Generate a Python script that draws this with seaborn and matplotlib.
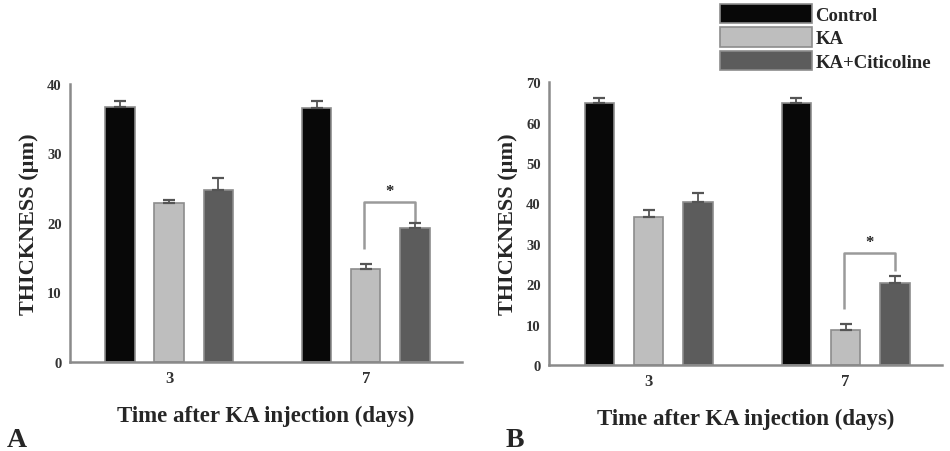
import matplotlib
matplotlib.use("Agg")
import matplotlib.pyplot as plt
import seaborn as sns
import pandas as pd

# data
days = ["3", "7"]
groups = ["Control", "KA", "KA+Citicoline"]

a_control = [36.7, 36.5]
a_ka = [22.9, 13.4]
a_kac = [24.7, 19.3]
a_err_control = [0.8, 1.0]
a_err_ka = [0.4, 0.7]
a_err_kac = [1.8, 0.7]

b_control = [64.8, 64.8]
b_ka = [36.6, 8.7]
b_kac = [40.3, 20.3]
b_err_control = [1.4, 1.3]
b_err_ka = [1.8, 1.4]
b_err_kac = [2.2, 1.7]

# significance bracket (day 7, KA vs KA+Citicoline): top, left end, right end
a_bracket = [23.0, 16.3, 20.1]
b_bracket = [27.7, 13.9, 23.3]

colors = ["#080808", "#bebebe", "#5c5c5c"]
edge = "#8c8c8c"
axis_col = "#8a8a8a"
SERIF = ["Liberation Serif", "DejaVu Serif"]


def make_frame(ctrl, ka, kac):
    rows = []
    for g, vals in zip(groups, [ctrl, ka, kac]):
        for d, v in zip(days, vals):
            rows.append({"day": d, "group": g, "thickness": v})
    return pd.DataFrame(rows)


def draw_panel(ax, ctrl, ka, kac, errs, bracket, ymax, yticks):
    df = make_frame(ctrl, ka, kac)
    sns.barplot(data=df, x="day", y="thickness", hue="group", hue_order=groups,
                palette=colors, width=0.75, gap=0.4, errorbar=None,
                edgecolor=edge, linewidth=1.2, legend=False, ax=ax)
    bars = list(ax.containers)
    # upper-only error bars placed on the seaborn bars
    for cont, err in zip(bars, errs):
        xs = [p.get_x() + p.get_width() / 2 for p in cont.patches]
        hs = [p.get_height() for p in cont.patches]
        ax.errorbar(xs, hs, yerr=[[0] * len(err), err], fmt="none",
                    ecolor="#555555", elinewidth=1.3, capsize=4, capthick=1.6,
                    zorder=3)
    # bracket between KA and KA+Citicoline on day 7
    p_ka = bars[1].patches[1]
    p_kac = bars[2].patches[1]
    x1 = p_ka.get_x() + p_ka.get_width() / 2 - 0.01
    x2 = p_kac.get_x() + p_kac.get_width() / 2
    top, left_end, right_end = bracket
    ax.plot([x1, x1, x2, x2], [left_end, top, top, right_end],
            color="#9a9a9a", lw=1.8, solid_capstyle="butt")
    ax.text((x1 + x2) / 2, top + ymax * 0.01, "*", ha="center", va="bottom",
            fontsize=12, fontweight="bold", family=SERIF, color="#222222")

    ax.set_ylim(0, ymax)
    ax.set_xlim(-0.505, 1.49)
    ax.set_yticks(yticks)
    ax.set_yticklabels([str(t) for t in yticks], fontsize=10.5,
                       fontweight="bold", family=SERIF, color="#333333")
    ax.set_xticks([0, 1])
    ax.set_xticklabels(days, fontsize=12, fontweight="bold", family=SERIF,
                       color="#333333")
    ax.set_xlabel("Time after KA injection (days)", fontsize=16.5,
                  fontweight="bold", family=SERIF, labelpad=13)
    ax.set_ylabel("THICKNESS (\u00b5m)", fontsize=16, fontweight="bold",
                  family=SERIF, labelpad=6)
    for s in ["top", "right"]:
        ax.spines[s].set_visible(False)
    for s in ["left", "bottom"]:
        ax.spines[s].set_color(axis_col)
        ax.spines[s].set_linewidth(1.8)
    ax.tick_params(axis="both", color=axis_col, width=1.5, length=4, pad=2)
    return bars


sns.set_style("white")
fig = plt.figure(figsize=(9.5, 4.52), dpi=100)
ax_a = fig.add_axes([0.0737, 0.197, 0.4126, 0.615])
ax_b = fig.add_axes([0.578, 0.190, 0.4136, 0.626])

draw_panel(ax_a, a_control, a_ka, a_kac,
           [a_err_control, a_err_ka, a_err_kac], a_bracket, 40,
           [0, 10, 20, 30, 40])
bars_b = draw_panel(ax_b, b_control, b_ka, b_kac,
                    [b_err_control, b_err_ka, b_err_kac], b_bracket, 70,
                    [0, 10, 20, 30, 40, 50, 60, 70])

# legend at the top right, its first box cut by the figure edge
leg = fig.legend([c.patches[0] for c in bars_b], groups,
                 loc="lower left", bbox_to_anchor=(0.748, 0.82),
                 frameon=False, handlelength=4.9, handleheight=1.2,
                 handletextpad=0.2, labelspacing=0.2, borderpad=0,
                 prop={"family": SERIF, "weight": "bold", "size": 13.5})

fig.text(0.007, 0.012, "A", fontsize=20, fontweight="bold", family=SERIF)
fig.text(0.532, 0.012, "B", fontsize=20, fontweight="bold", family=SERIF)

fig.savefig("out.png", dpi=100)
